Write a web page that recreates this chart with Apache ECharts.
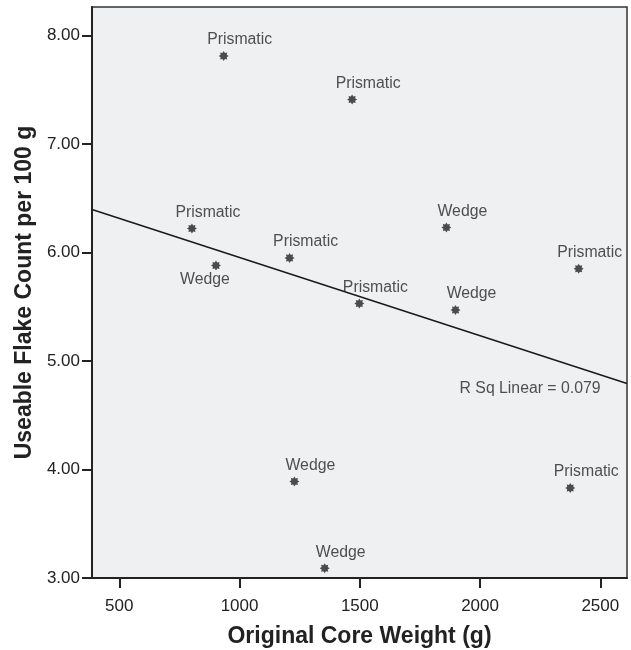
<!DOCTYPE html>
<html>
<head>
<meta charset="utf-8">
<script src="https://cdn.jsdelivr.net/npm/echarts@6/dist/echarts.min.js"></script>
<style>html,body{margin:0;padding:0;background:#fff;}#c{width:631px;height:650px;}</style>
</head>
<body>
<div id="c"></div>
<script>
// ---- data ----
var coreWeight = [934, 1468, 802, 902, 1208, 1498, 1860, 1898, 2410, 1228, 1354, 2375];
var flakeCount = [7.81, 7.41, 6.22, 5.88, 5.95, 5.53, 6.23, 5.47, 5.85, 3.89, 3.09, 3.83];
var coreType = ['Prismatic', 'Prismatic', 'Prismatic', 'Wedge', 'Prismatic', 'Prismatic', 'Wedge', 'Wedge', 'Prismatic', 'Wedge', 'Wedge', 'Prismatic'];
var xTicks = [500, 1000, 1500, 2000, 2500];
var yTicks = [3, 4, 5, 6, 7, 8];
var rSqText = 'R Sq Linear = 0.079';

// ---- axis extents ----
var xMin = 386.5, xMax = 2611;
var yMin = 3, yMax = 8.262;

// least squares fit
var n = coreWeight.length, mx = 0, my = 0;
for (var i = 0; i < n; i++) { mx += coreWeight[i]; my += flakeCount[i]; }
mx /= n; my /= n;
var sxy = 0, sxx = 0;
for (var i = 0; i < n; i++) { sxy += (coreWeight[i] - mx) * (flakeCount[i] - my); sxx += (coreWeight[i] - mx) * (coreWeight[i] - mx); }
var slope = sxy / sxx, intercept = my - slope * mx;

// star marker path
var pts = [];
for (var k = 0; k < 16; k++) {
  var a = (-90 + k * 22.5) * Math.PI / 180;
  var r = (k % 2 === 0) ? 10 : 6.5;
  pts.push((r * Math.cos(a)).toFixed(3) + ' ' + (r * Math.sin(a)).toFixed(3));
}
var starPath = 'path://M' + pts.join(' L') + ' Z';

var FONT = 'Liberation Sans, Arial, sans-serif';

// label placement styles (per index)
var labelStyleMap = { 3: { position: 'bottom', offset: [-11, 0], distance: 1 }, 8: { position: 'top', offset: [11, 0], distance: 3 } };

var scatterData = coreWeight.map(function (x, i) {
  var st = labelStyleMap[i] || { position: 'top', offset: [16, 0], distance: 3 };
  return {
    value: [x, flakeCount[i]],
    label: { show: true, formatter: coreType[i], position: st.position, offset: st.offset, distance: st.distance }
  };
});

var fitEnd = [xMax, intercept + slope * xMax];
var fitData = [[xMin, intercept + slope * xMin], fitEnd];

var chart = echarts.init(document.getElementById('c'), null, { renderer: 'canvas' });
chart.setOption({
  animation: false,
  backgroundColor: '#ffffff',
  grid: { left: 92, right: 4, top: 7, bottom: 72, show: true, backgroundColor: '#eff0f2', borderColor: '#333', borderWidth: 1.5,
          containLabel: false, outerBoundsMode: 'none' },
  xAxis: {
    type: 'value', min: xMin, max: xMax,
    name: 'Original Core Weight (g)', nameLocation: 'middle', nameGap: 47,
    nameTextStyle: { fontFamily: FONT, fontSize: 23, fontWeight: 'bold', color: '#222' },
    axisLine: { show: true, lineStyle: { color: '#222', width: 2 } },
    axisTick: { show: true, length: 10, customValues: xTicks, lineStyle: { color: '#222', width: 2 } },
    axisLabel: { customValues: xTicks, margin: 20, fontFamily: FONT, fontSize: 17, color: '#222',
                 formatter: function (v) { return String(v); } },
    splitLine: { show: false }
  },
  yAxis: {
    type: 'value', min: yMin, max: yMax,
    name: 'Useable Flake Count per 100 g', nameLocation: 'middle', nameGap: 51,
    nameTextStyle: { fontFamily: FONT, fontSize: 23, fontWeight: 'bold', color: '#222' },
    axisLine: { show: true, lineStyle: { color: '#222', width: 2 } },
    axisTick: { show: true, length: 10, customValues: yTicks, lineStyle: { color: '#222', width: 2 } },
    axisLabel: { customValues: yTicks, margin: 12, fontFamily: FONT, fontSize: 17, color: '#222',
                 formatter: function (v) { return v.toFixed(2); } },
    splitLine: { show: false }
  },
  series: [
    {
      type: 'line', data: fitData, symbol: 'none', silent: true,
      lineStyle: { color: '#1a1a1a', width: 1.5 }, z: 2
    },
    {
      type: 'scatter', data: [fitEnd], symbol: 'circle', symbolSize: 1, silent: true,
      itemStyle: { color: 'rgba(0,0,0,0)' },
      label: { show: true, formatter: rSqText, position: 'left', distance: 26, offset: [0, 5],
               fontFamily: FONT, fontSize: 15.8, color: '#262626' },
      z: 3
    },
    {
      type: 'scatter', data: scatterData, symbol: starPath, symbolSize: 10,
      itemStyle: { color: '#222' },
      label: { fontFamily: FONT, fontSize: 15.8, color: '#262626' },
      z: 4
    }
  ]
});
</script>
</body>
</html>
